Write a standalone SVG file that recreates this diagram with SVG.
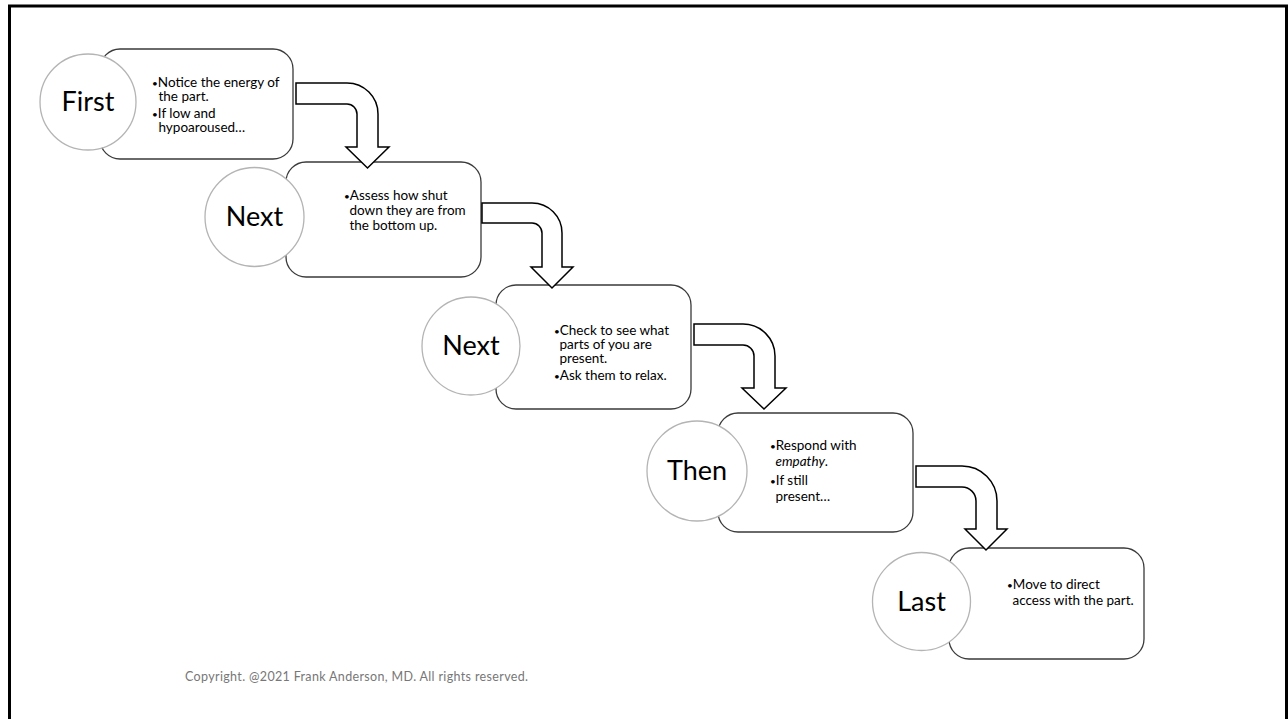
<svg xmlns="http://www.w3.org/2000/svg" width="1288" height="719" viewBox="0 0 1288 719">
<style>
.box{fill:#fff;stroke:#3a3a3a;stroke-width:1.3}
.circ{fill:#fff;stroke:#b4b4b4;stroke-width:1.3}
.lbl{font-family:Lato,"Liberation Sans",sans-serif;font-size:27px;fill:#000;text-anchor:middle}
.txt{font-family:Lato,"Liberation Sans",sans-serif;font-size:13.5px;fill:#000}
.b{font-size:10px}
.arr{fill:#fff;stroke:#000;stroke-width:1.5;stroke-linejoin:miter}
.copy{font-family:Lato,"Liberation Sans",sans-serif;font-size:12.5px;fill:#777}
</style>
<rect x="0" y="0" width="1288" height="719" fill="#fff"/>
<rect x="9.5" y="6" width="1277" height="730" fill="none" stroke="#000" stroke-width="3"/>

<g id="step1">
<rect class="box" x="100" y="49" width="193" height="110" rx="20"/>
<circle class="circ" cx="88" cy="102" r="48"/>
<text class="lbl" x="88" y="111">First</text>
<text class="txt"><tspan x="152" y="87" class="b">•</tspan><tspan>Notice the energy of</tspan><tspan x="158.5" y="100.5">the part.</tspan><tspan x="152" y="118" class="b">•</tspan><tspan>If low and</tspan><tspan x="158.5" y="131.5">hypoaroused…</tspan></text>
</g>

<g id="step2">
<rect class="box" x="286" y="162" width="195" height="115" rx="20"/>
<circle class="circ" cx="254.5" cy="217" r="49.5"/>
<text class="lbl" x="254.5" y="226">Next</text>
<text class="txt"><tspan x="344" y="200" class="b">•</tspan><tspan>Assess how shut</tspan><tspan x="349.5" y="215">down they are from</tspan><tspan x="349.5" y="230">the bottom up.</tspan></text>
</g>

<g id="step3">
<rect class="box" x="496" y="285" width="195" height="124" rx="20"/>
<circle class="circ" cx="471" cy="346" r="49"/>
<text class="lbl" x="471" y="355">Next</text>
<text class="txt"><tspan x="554" y="335" class="b">•</tspan><tspan>Check to see what</tspan><tspan x="559.5" y="349">parts of you are</tspan><tspan x="559.5" y="363">present.</tspan><tspan x="554" y="380" class="b">•</tspan><tspan>Ask them to relax.</tspan></text>
</g>

<g id="step4">
<rect class="box" x="718" y="413" width="195" height="119" rx="20"/>
<circle class="circ" cx="697" cy="471" r="50"/>
<text class="lbl" x="697" y="480">Then</text>
<text class="txt"><tspan x="770" y="450" class="b">•</tspan><tspan>Respond with</tspan><tspan x="775.5" y="466" font-style="italic">empathy</tspan><tspan>.</tspan><tspan x="770" y="485" class="b">•</tspan><tspan>If still</tspan><tspan x="775.5" y="501">present…</tspan></text>
</g>

<g id="step5">
<rect class="box" x="949" y="548" width="195" height="111" rx="20"/>
<circle class="circ" cx="921.5" cy="601.5" r="49"/>
<text class="lbl" x="921.5" y="611">Last</text>
<text class="txt"><tspan x="1007" y="589" class="b">•</tspan><tspan>Move to direct</tspan><tspan x="1012.5" y="605">access with the part.</tspan></text>
</g>

<g id="connectors">
<path class="arr" d="M296,83 H347 A31,31 0 0 1 378,114 V147 H389 L367.5,168 L346,147 H357 V114 A10,10 0 0 0 347,104 H296 Z"/>
<path class="arr" d="M482,203 H532 A30,30 0 0 1 562,233 V267 H573 L552,288 L531,267 H542 V233 A10,10 0 0 0 532,223 H482 Z"/>
<path class="arr" d="M694,324 H743 A32,32 0 0 1 775,356 V388 H786 L764,409 L742,388 H754 V356 A11,11 0 0 0 743,345 H694 Z"/>
<path class="arr" d="M916,466 H962 A35,35 0 0 1 997,501 V529 H1007 L986,550 L965,529 H976 V501 A14,14 0 0 0 962,487 H916 Z"/>
</g>

<text class="copy" x="185" y="681" textLength="343" lengthAdjust="spacing">Copyright. @2021 Frank Anderson, MD. All rights reserved.</text>
</svg>
